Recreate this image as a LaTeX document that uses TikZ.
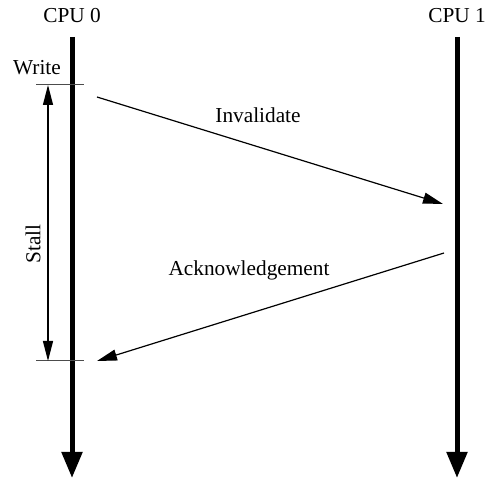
\documentclass[tikz,border=0pt]{standalone}
\usepackage{fontspec}
\setmainfont{Liberation Serif}
\usetikzlibrary{arrows.meta}
\begin{document}
\begin{tikzpicture}[x=1pt,y=-1pt,
  lbl/.style={inner sep=0pt,font=\fontsize{21.3}{25}\selectfont},
  timeline/.style={line width=5pt,-{Triangle[length=26pt,width=20pt]}},
  msg/.style={line width=1.2pt,-{Triangle[length=20pt,width=11pt]}},
  tick/.style={line width=1pt,draw=black!70}]
\useasboundingbox (0,0) rectangle (491,478);
% timelines
\coordinate (t0s) at (72,37);
\coordinate (t0e) at (72,478);
\coordinate (t1s) at (457,37);
\coordinate (t1e) at (457,478);
\draw[timeline] (t0s) -- (t0e);
\draw[timeline] (t1s) -- (t1e);
\node[lbl] (cpu0) at (72,16) {CPU 0};
\node[lbl] (cpu1) at (457,16) {CPU 1};
% ticks
\coordinate (w1) at (36,85);
\coordinate (w2) at (84,85);
\coordinate (s1) at (36,361);
\coordinate (s2) at (84,361);
\draw[tick] (w1) -- (w2);
\draw[tick] (s1) -- (s2);
\node[lbl] (write) at (37,68) {Write};
% stall
\coordinate (sa) at (48,85);
\coordinate (sb) at (48,361);
\draw[line width=1.2pt,{Triangle[length=20pt,width=10pt]}-{Triangle[length=20pt,width=10pt]}] (sa) -- (sb);
\node[lbl,rotate=90] (stall) at (33,244) {Stall};
% messages
\coordinate (i1) at (97,97);
\coordinate (i2) at (443,204);
\draw[msg] (i1) -- (i2);
\node[lbl] (inv) at (258,115) {Invalidate};
\coordinate (a1) at (444,253);
\coordinate (a2) at (97,361);
\draw[msg] (a1) -- (a2);
\node[lbl] (ack) at (249,270) {Acknowledgement};
\end{tikzpicture}
\end{document}
